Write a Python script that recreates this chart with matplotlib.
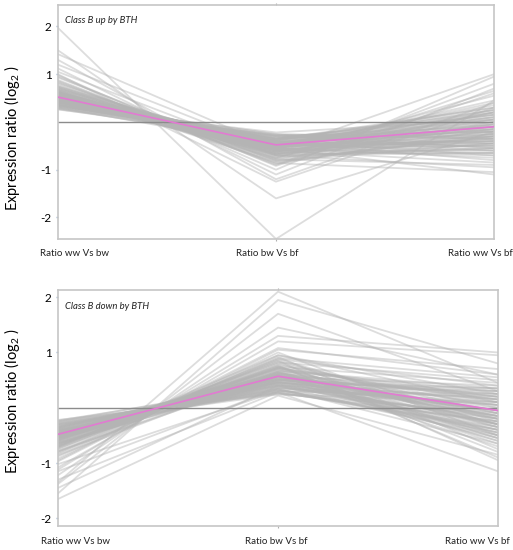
import numpy as np
import matplotlib
matplotlib.use('Agg')
import matplotlib.pyplot as plt

plt.rcParams['font.family'] = ['Lato', 'DejaVu Sans']
plt.rcParams['mathtext.fontset'] = 'custom'
plt.rcParams['mathtext.rm'] = 'Lato'

categories = ['Ratio ww Vs bw', 'Ratio bw Vs bf', 'Ratio ww Vs bf']
y_ticks = [-2, -1, 1, 2]

# class B up by BTH: one value per gene and column
up_ww_bw = [0.28, 0.31, 0.33, 0.35, 0.36, 0.38, 0.40, 0.41, 0.42, 0.43,
            0.44, 0.45, 0.46, 0.47, 0.48, 0.49, 0.50, 0.50, 0.51, 0.52,
            0.53, 0.54, 0.55, 0.56, 0.57, 0.58, 0.59, 0.60, 0.61, 0.62,
            0.63, 0.64, 0.66, 0.68, 0.70, 0.72, 0.74, 0.77, 0.80, 0.84,
            0.88, 0.93, 0.98, 1.05, 1.12, 1.20, 1.30, 1.42, 1.50, 1.97,
            0.30, 0.34, 0.39, 0.44, 0.47, 0.52, 0.55, 0.58, 0.62, 0.67,
            0.26, 0.37, 0.45, 0.53, 0.60, 0.71, 0.82, 0.95, 1.00, 0.40,
            0.27, 0.32, 0.36, 0.41, 0.46, 0.49, 0.54, 0.57, 0.63, 0.69,
            0.29, 0.35, 0.39, 0.43, 0.48, 0.51, 0.56, 0.61, 0.66, 0.75,
            0.31, 0.34, 0.42, 0.47, 0.50, 0.53, 0.58, 0.65, 0.73, 0.86]
up_bw_bf = [-0.27, -0.33, -0.30, -0.38, -0.34, -0.40, -0.37, -0.45, -0.39, -0.44,
            -0.42, -0.48, -0.44, -0.50, -0.46, -0.52, -0.47, -0.55, -0.49, -0.51,
            -0.50, -0.56, -0.53, -0.60, -0.54, -0.58, -0.62, -0.57, -0.65, -0.60,
            -0.62, -0.66, -0.63, -0.70, -0.68, -0.74, -0.72, -0.80, -0.76, -0.86,
            -0.90, -0.82, -1.00, -0.70, -1.10, -0.60, -1.20, -0.55, -1.60, -2.45,
            -0.28, -0.36, -0.42, -0.40, -0.52, -0.48, -0.58, -0.55, -0.68, -0.64,
            -0.30, -0.35, -0.43, -0.47, -0.59, -0.66, -0.78, -0.92, -1.25, -0.26,
            -0.40, -0.22, -0.50, -0.30, -0.62, -0.35, -0.70, -0.42, -0.78, -0.52,
            -0.45, -0.25, -0.55, -0.33, -0.66, -0.38, -0.75, -0.45, -0.85, -0.58,
            -0.52, -0.29, -0.36, -0.58, -0.41, -0.69, -0.48, -0.82, -0.55, -0.88]
up_ww_bf = [-0.35, 0.10, -0.55, 0.25, -0.15, -0.70, 0.05, -0.40, 0.30, -0.20,
            -0.05, -0.60, 0.15, -0.30, -0.45, 0.20, -0.10, -0.75, 0.00, -0.25,
            0.35, -0.50, -0.15, -0.85, 0.10, -0.35, -0.05, 0.45, -0.65, -0.20,
            0.05, -0.40, 0.55, -0.95, -0.10, 0.20, -0.55, -0.30, 0.65, -1.05,
            0.80, -0.45, 0.95, -0.25, 0.70, -0.60, 0.40, -1.10, -0.20, 0.45,
            -0.30, 0.00, -0.50, 0.15, -0.15, -0.40, 0.25, -0.65, -0.05, -0.35,
            -0.45, 0.20, -0.80, -0.10, 1.00, -0.20, -0.90, 0.60, 0.30, -0.55,
            -0.20, 0.05, -0.45, -0.10, -0.30, 0.15, -0.55, -0.25, 0.00, -0.40,
            0.10, -0.35, -0.15, -0.60, 0.20, -0.05, -0.45, 0.25, -0.25, -0.70,
            -0.50, -0.20, 0.30, -0.35, -0.10, -0.65, 0.05, -0.30, 0.40, -0.15]
up_mean = [0.52, -0.48, -0.10]

# class B down by BTH
down_ww_bw = [-0.22, -0.26, -0.28, -0.30, -0.32, -0.34, -0.35, -0.37, -0.38, -0.40,
              -0.41, -0.42, -0.43, -0.44, -0.45, -0.46, -0.47, -0.48, -0.49, -0.50,
              -0.51, -0.52, -0.53, -0.54, -0.55, -0.56, -0.57, -0.58, -0.60, -0.62,
              -0.64, -0.66, -0.68, -0.70, -0.73, -0.76, -0.80, -0.84, -0.88, -0.92,
              -0.97, -1.02, -1.08, -1.15, -1.22, -1.30, -1.38, -1.45, -1.55, -1.65,
              -0.24, -0.33, -0.39, -0.45, -0.50, -0.55, -0.61, -0.67, -0.74, -0.82,
              -0.29, -0.36, -0.42, -0.48, -0.53, -0.59, -0.65, -0.71, -1.12, -1.35,
              -0.23, -0.30, -0.36, -0.41, -0.46, -0.52, -0.58, -0.63, -0.69, -0.78,
              -0.25, -0.31, -0.38, -0.43, -0.49, -0.54, -0.60, -0.66, -0.72, -0.86,
              -0.27, -0.34, -0.40, -0.47, -0.51, -0.57, -0.63, -0.70, -0.79, -0.95]
down_bw_bf = [0.25, 0.30, 0.28, 0.36, 0.33, 0.40, 0.38, 0.42, 0.45, 0.44,
              0.47, 0.46, 0.50, 0.48, 0.53, 0.51, 0.55, 0.52, 0.57, 0.58,
              0.56, 0.60, 0.59, 0.63, 0.61, 0.65, 0.62, 0.68, 0.66, 0.70,
              0.72, 0.75, 0.74, 0.80, 0.78, 0.85, 0.90, 0.88, 0.95, 1.00,
              1.05, 0.30, 1.20, 0.35, 1.45, 0.28, 1.70, 0.40, 1.95, 0.22,
              0.27, 0.35, 0.43, 0.50, 0.54, 0.58, 0.67, 0.73, 0.82, 0.92,
              0.31, 0.39, 0.47, 0.55, 0.60, 0.64, 0.71, 0.77, 1.30, 2.10,
              0.40, 0.24, 0.52, 0.33, 0.62, 0.42, 0.75, 0.50, 0.85, 0.60,
              0.45, 0.27, 0.58, 0.36, 0.70, 0.45, 0.82, 0.55, 0.95, 0.65,
              0.33, 0.50, 0.30, 0.63, 0.40, 0.72, 0.48, 0.88, 0.58, 1.08]
down_ww_bf = [-0.10, 0.20, -0.35, 0.05, -0.50, 0.30, -0.20, -0.05, 0.15, -0.40,
              0.00, -0.25, 0.35, -0.15, -0.60, 0.10, -0.30, 0.25, -0.45, -0.05,
              0.40, -0.20, -0.70, 0.15, -0.10, -0.35, 0.05, -0.55, 0.30, -0.15,
              0.20, -0.80, 0.45, -0.30, 0.00, -0.95, 0.55, -0.25, 0.10, -0.50,
              0.70, -0.40, 0.95, -0.65, 0.60, -1.15, 0.30, -0.20, 0.80, -0.85,
              -0.25, 0.10, -0.45, 0.25, -0.05, -0.60, 0.35, -0.30, 0.50, -0.75,
              -0.15, 0.05, -0.35, 0.20, -0.10, -0.50, 0.15, -0.90, 1.00, 0.45,
              -0.30, 0.10, -0.15, -0.45, 0.20, -0.05, -0.35, 0.30, -0.20, -0.55,
              0.15, -0.25, -0.50, 0.05, -0.30, 0.35, -0.10, -0.40, 0.25, -0.65,
              -0.40, -0.05, 0.25, -0.20, -0.55, 0.10, -0.30, 0.40, -0.15, 0.60]
down_mean = [-0.48, 0.57, -0.05]


def draw_panel(ax, cols, mean, title, ylim, lab_x, lab_y):
    x = np.arange(len(categories))
    profiles = np.array(cols).T
    for p in profiles:
        ax.plot(x, p, color='#b4b4b4', lw=1.3, alpha=0.45, zorder=1)
    ax.axhline(0, color='#8c8c8c', lw=1.0, zorder=2)
    ax.plot(x, mean, color='#e27ad2', lw=1.2, zorder=3)
    ax.set_xlim(0, 2)
    ax.set_ylim(*ylim)
    ax.set_yticks(y_ticks)
    ax.set_yticklabels([str(t) for t in y_ticks], fontsize=8.5)
    ax.tick_params(axis='y', length=1.5, width=1, color='#9fb4d0', pad=3)
    ax.set_xticks([1])
    ax.set_xticklabels([''])
    ax.tick_params(axis='x', length=1.5, color='#b0b0b0', top=True)
    for s in ax.spines.values():
        s.set_color('#c6c6c6')
        s.set_linewidth(1.2)
    ax.text(0.034, ylim[1] - 0.068 * (ylim[1] - ylim[0]), title, fontsize=6.8,
            style='italic', ha='left', va='center', color='#222222')
    for c, lx in zip(categories, lab_x):
        ax.text(lx, lab_y, c, transform=ax.transAxes, fontsize=7,
                ha='center', va='center', color='#222222')


fig = plt.figure(figsize=(5.13, 5.5), dpi=100)
ax1 = fig.add_axes([0.113, 0.5655, 0.850, 0.4255])
ax2 = fig.add_axes([0.113, 0.0445, 0.858, 0.4282])

draw_panel(ax1, [up_ww_bw, up_bw_bf, up_ww_bf], up_mean, 'Class B up by BTH',
           (-2.45, 2.45), [0.039, 0.479, 0.968], -0.06)
draw_panel(ax2, [down_ww_bw, down_bw_bf, down_ww_bf], down_mean, 'Class B down by BTH',
           (-2.13, 2.13), [0.040, 0.495, 0.952], -0.066)

fig.text(0.024, 0.749, 'Expression ratio (log$_2$ )', rotation=90,
         ha='center', va='center', fontsize=10.5)
fig.text(0.024, 0.271, 'Expression ratio (log$_2$ )', rotation=90,
         ha='center', va='center', fontsize=10.5)

plt.savefig('out.png', dpi=100)
